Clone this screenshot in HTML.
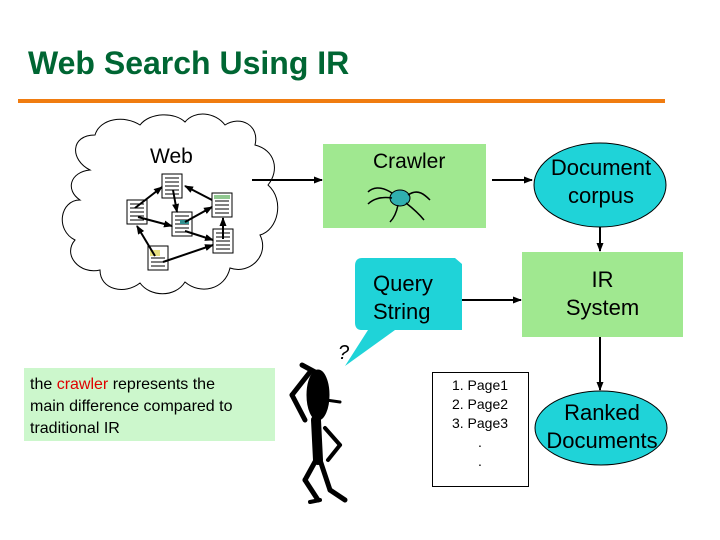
<!DOCTYPE html>
<html><head><style>
body{margin:0;background:#fff;font-family:"Liberation Sans",sans-serif;}
.a{position:absolute;}
</style></head><body>
<div style="position:relative;width:720px;height:540px;overflow:hidden;">
<div class="a" style="left:28px;top:45px;font-size:32px;color:#006633;font-weight:bold;">Web Search Using IR</div>
<div class="a" style="left:18px;top:99px;width:647px;height:4px;background:#f07c10;"></div>
<svg class="a" style="left:0;top:0" width="720" height="540">
<defs><marker id="m" markerWidth="9" markerHeight="9" refX="8" refY="4.5" orient="auto" markerUnits="userSpaceOnUse"><path d="M0,1 L9,4.5 L0,8z" fill="#000"/></marker></defs>
<path d="M90,170 C70,160 70,135 95,135 C100,118 125,115 140,125 C150,112 175,112 185,122 C195,110 215,112 225,125 C240,115 260,125 255,145 C275,150 280,170 268,185 C285,200 278,230 260,235 C270,255 250,275 230,268 C225,290 200,295 185,282 C175,298 150,297 140,283 C125,295 100,290 100,270 C80,275 62,255 75,240 C55,230 60,200 80,200 C65,190 70,172 90,170z" fill="#fff" stroke="#000" stroke-width="1"/>
<g fill="#fff" stroke="#000" stroke-width="1">
<rect x="162" y="174" width="20" height="24"/><rect x="127" y="200" width="20" height="24"/><rect x="172" y="212" width="20" height="24"/><rect x="212" y="193" width="20" height="24"/><rect x="213" y="229" width="20" height="24"/><rect x="148" y="246" width="20" height="24"/>
</g>
<g stroke="#000" stroke-width="1">
<path d="M165,178h14M165,182h14M165,186h14M165,190h14M165,194h14M130,204h14M130,208h14M130,212h14M130,216h14M130,220h14M175,216h14M175,220h14M175,224h14M175,228h14M175,232h14M215,201h14M215,205h14M215,209h14M215,213h14M216,233h14M216,237h14M216,241h14M216,245h14M216,249h14M151,258h14M151,262h14M151,266h14"/>
</g>
<rect x="214" y="195" width="16" height="4" fill="#90c890"/>
<rect x="180" y="220" width="9" height="4" fill="#309090"/>
<rect x="150" y="250" width="10" height="6" fill="#e8e080"/>
<g stroke="#000" stroke-width="2" fill="none" marker-end="url(#m)">
<line x1="135" y1="208" x2="162" y2="187"/><line x1="173" y1="190" x2="177" y2="212"/><line x1="212" y1="200" x2="185" y2="186"/><line x1="185" y1="222" x2="212" y2="207"/><line x1="138" y1="217" x2="172" y2="226"/><line x1="185" y1="231" x2="213" y2="240"/><line x1="223" y1="239" x2="223" y2="218"/><line x1="155" y1="256" x2="137" y2="226"/><line x1="163" y1="262" x2="213" y2="245"/>
</g>
<line x1="252" y1="180" x2="322" y2="180" stroke="#000" stroke-width="2" marker-end="url(#m)"/>
<rect x="323" y="144" width="163" height="84" fill="#a0e890"/>
<ellipse cx="400" cy="198" rx="10" ry="8" fill="#30b0b0" stroke="#000"/>
<g stroke="#000" stroke-width="1.5" fill="none"><path d="M392,193 C380,185 372,188 368,192"/><path d="M392,198 C380,196 372,200 368,204"/><path d="M408,195 C418,188 425,195 430,200"/><path d="M406,203 C415,210 420,215 424,220"/><path d="M398,205 C396,215 392,220 390,222"/></g>
<line x1="492" y1="180" x2="532" y2="180" stroke="#000" stroke-width="2" marker-end="url(#m)"/>
<ellipse cx="600" cy="185" rx="66" ry="42" fill="#1fd3d8" stroke="#000"/>
<line x1="600" y1="227" x2="600" y2="251" stroke="#000" stroke-width="2" marker-end="url(#m)"/>
<rect x="522" y="252" width="161" height="85" fill="#a0e890"/>
<line x1="600" y1="337" x2="600" y2="390" stroke="#000" stroke-width="2" marker-end="url(#m)"/>
<ellipse cx="601" cy="428" rx="66" ry="37" fill="#1fd3d8" stroke="#000"/>
<path d="M362,258 L455,258 L462,264 L462,330 L395,330 L345,366 L368,330 L362,330 C356,330 355,326 355,322 L355,266 C355,260 358,258 362,258z" fill="#1fd3d8"/>
<line x1="462" y1="300" x2="521" y2="300" stroke="#000" stroke-width="2" marker-end="url(#m)"/>
<rect x="432.5" y="372.5" width="96" height="114" fill="#fff" stroke="#000"/>
<g fill="#000" stroke="#000" stroke-linecap="round">
<ellipse cx="318" cy="395" rx="11" ry="25"/>
<line x1="310" y1="372" x2="292" y2="395" stroke-width="5"/><line x1="292" y1="395" x2="305" y2="420" stroke-width="5"/>
<line x1="302" y1="365" x2="315" y2="372" stroke-width="5"/>
<line x1="316" y1="420" x2="318" y2="460" stroke-width="10"/>
<line x1="325" y1="428" x2="340" y2="445" stroke-width="4"/><line x1="340" y1="445" x2="328" y2="460" stroke-width="4"/>
<line x1="316" y1="460" x2="305" y2="480" stroke-width="5"/><line x1="305" y1="480" x2="318" y2="500" stroke-width="5"/>
<line x1="320" y1="460" x2="330" y2="490" stroke-width="5"/><line x1="330" y1="490" x2="345" y2="500" stroke-width="5"/>
<line x1="310" y1="502" x2="320" y2="500" stroke-width="4"/>
<line x1="326" y1="400" x2="340" y2="402" stroke-width="3"/>
</g>
</svg>
<div class="a" style="left:338px;top:342px;font-size:20px;font-style:italic;">?</div>
<div class="a" style="left:150px;top:145px;font-size:21px;">Web</div>
<div class="a" style="left:373px;top:150px;font-size:21px;">Crawler</div>
<div class="a" style="left:534px;top:154px;width:134px;text-align:center;font-size:22px;line-height:28px;">Document<br>corpus</div>
<div class="a" style="left:522px;top:266px;width:161px;text-align:center;font-size:22px;line-height:28px;">IR<br>System</div>
<div class="a" style="left:535px;top:399px;width:134px;text-align:center;font-size:22px;line-height:28px;">Ranked<br>Documents</div>
<div class="a" style="left:373px;top:270px;font-size:22px;line-height:28px;">Query<br>String</div>
<div class="a" style="left:432px;top:376px;width:96px;text-align:center;font-size:14px;line-height:19px;">1. Page1<br>2. Page2<br>3. Page3<br>.<br>.</div>
<div class="a" style="left:24px;top:368px;width:251px;height:73px;background:#ccf7cc;"></div>
<div class="a" style="left:30px;top:374px;width:222px;font-size:16px;line-height:22px;">the <span style="color:#e00000">crawler</span> represents the main difference compared to traditional IR</div>
</div>
</body></html>
